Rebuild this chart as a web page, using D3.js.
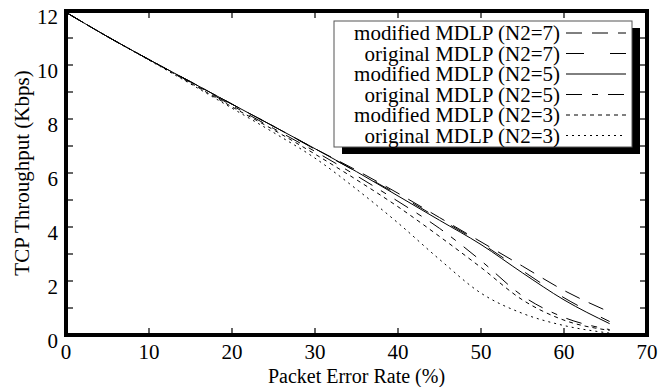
<!DOCTYPE html>
<html>
<head>
<meta charset="utf-8">
<script src="https://cdn.jsdelivr.net/npm/d3@7"></script>
<style>
  body { margin: 0; background: #fff; }
  svg text { font-family: "Liberation Serif", "Times New Roman", serif; font-size: 21px; fill: #000; }
</style>
</head>
<body>
<div id="chart"></div>
<script>
// packet error rate (%) samples
const per = [0, 5, 10, 15, 20, 25, 30, 35, 40, 45, 50, 55, 60, 65.5];

// TCP throughput (Kbps) per series
const mod7  = [11.95, 11.05, 10.2, 9.38, 8.55, 7.73, 6.9, 6.1, 5.25, 4.35, 3.45, 2.55, 1.65, 0.85];
const orig7 = [11.95, 11.05, 10.2, 9.38, 8.55, 7.73, 6.88, 6.05, 5.2, 4.3, 3.4, 2.38, 1.38, 0.5];
const mod5  = [11.95, 11.05, 10.2, 9.38, 8.55, 7.73, 6.9, 6.05, 5.15, 4.25, 3.35, 2.3, 1.3, 0.42];
const orig5 = [11.95, 11.05, 10.2, 9.36, 8.5, 7.65, 6.8, 5.9, 4.95, 3.95, 2.75, 1.45, 0.65, 0.2];
const mod3  = [11.95, 11.05, 10.2, 9.33, 8.45, 7.6, 6.7, 5.75, 4.75, 3.65, 2.5, 1.3, 0.55, 0.17];
const orig3 = [11.95, 11.05, 10.18, 9.3, 8.4, 7.5, 6.55, 5.4, 4.15, 2.8, 1.55, 0.8, 0.35, 0.07];

const labels = ["modified MDLP (N2=7)", "original MDLP (N2=7)", "modified MDLP (N2=5)",
                "original MDLP (N2=5)", "modified MDLP (N2=3)", "original MDLP (N2=3)"];
const dashes = ["16,10", "18,26", null, "16,10,6,10", "4,4", "2,4"];

const xTicks = [0, 10, 20, 30, 40, 50, 60, 70];
const yLabelTicks = [0, 2, 4, 6, 8, 10, 12];
const yTicks = d3.range(0, 13);

const width = 660, height = 387;
const margin = {top: 11, right: 13, bottom: 52, left: 66};
const w = width - margin.left - margin.right;
const h = height - margin.top - margin.bottom;

const series = [mod7, orig7, mod5, orig5, mod3, orig3].map((vals, i) => ({
    name: labels[i], dash: dashes[i], values: vals.map((v, j) => [per[j], v])
}));

const svg = d3.select("#chart").append("svg")
    .attr("width", width)
    .attr("height", height);

const x = d3.scaleLinear().domain([0, 70]).range([margin.left, margin.left + w]);
const y = d3.scaleLinear().domain([0, 12]).range([margin.top + h, margin.top]);

// tick marks, drawn inward on all four sides
const tickLen = 7;
const ticks = svg.append("g").attr("stroke", "#000").attr("stroke-width", 1.2);
xTicks.forEach(t => {
    ticks.append("line").attr("x1", x(t)).attr("x2", x(t))
        .attr("y1", y(0)).attr("y2", y(0) - tickLen);
    ticks.append("line").attr("x1", x(t)).attr("x2", x(t))
        .attr("y1", y(12)).attr("y2", y(12) + tickLen);
});
yTicks.forEach(t => {
    ticks.append("line").attr("x1", x(0)).attr("x2", x(0) + tickLen)
        .attr("y1", y(t)).attr("y2", y(t));
    ticks.append("line").attr("x1", x(70)).attr("x2", x(70) - tickLen)
        .attr("y1", y(t)).attr("y2", y(t));
});

// tick labels
svg.append("g").selectAll("text").data(xTicks).enter().append("text")
    .attr("x", d => x(d))
    .attr("y", y(0) + 24)
    .attr("text-anchor", "middle")
    .text(d => d);

svg.append("g").selectAll("text").data(yLabelTicks).enter().append("text")
    .attr("x", margin.left - 8)
    .attr("y", d => y(d) + 13)
    .attr("text-anchor", "end")
    .text(d => d);

// axis titles
svg.append("text")
    .attr("x", x(35))
    .attr("y", 383)
    .attr("text-anchor", "middle")
    .style("font-size", "20px")
    .text("Packet Error Rate (%)");

svg.append("text")
    .attr("transform", "translate(29," + y(6) + ") rotate(-90)")
    .attr("text-anchor", "middle")
    .text("TCP Throughput (Kbps)");

// curves
const line = d3.line()
    .x(d => x(d[0]))
    .y(d => y(d[1]))
    .curve(d3.curveMonotoneX);

svg.append("g").selectAll("path").data(series).enter().append("path")
    .attr("d", d => line(d.values))
    .attr("fill", "none")
    .attr("stroke", "#000")
    .attr("stroke-width", 1)
    .attr("stroke-dasharray", d => d.dash);

// legend with drop shadow
const lg = {x: 334, y: 21, w: 298, h: 126, shadow: 8};
svg.append("rect")
    .attr("x", lg.x + lg.shadow).attr("y", lg.y + 7)
    .attr("width", lg.w).attr("height", lg.h)
    .attr("fill", "#000");
svg.append("rect")
    .attr("x", lg.x).attr("y", lg.y)
    .attr("width", lg.w).attr("height", lg.h)
    .attr("fill", "#fff")
    .attr("stroke", "#555")
    .attr("stroke-width", 1);

const rows = svg.append("g").selectAll("g").data(series).enter().append("g")
    .attr("transform", (d, i) => "translate(0," + (33 + i * 20.5) + ")");
rows.append("text")
    .attr("x", 560)
    .attr("y", 7)
    .attr("text-anchor", "end")
    .text(d => d.name);
rows.append("line")
    .attr("x1", 566).attr("x2", 626)
    .attr("y1", 0).attr("y2", 0)
    .attr("stroke", "#000")
    .attr("stroke-width", 1)
    .attr("stroke-dasharray", d => d.dash);

// plot frame (thick border)
svg.append("rect")
    .attr("x", x(0)).attr("y", y(12))
    .attr("width", w).attr("height", h)
    .attr("fill", "none")
    .attr("stroke", "#000")
    .attr("stroke-width", 4);
</script>
</body>
</html>
